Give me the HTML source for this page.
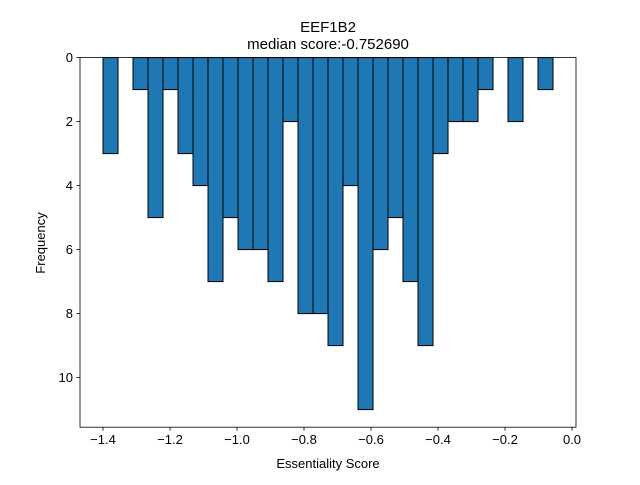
<!DOCTYPE html>
<html><head><meta charset="utf-8"><style>
body{margin:0;background:#fff;}
svg text{font-family:"Liberation Sans",sans-serif;}
</style></head><body>
<svg id="chart" width="640" height="480" xmlns="http://www.w3.org/2000/svg">
<rect width="640" height="480" fill="#fff"/>
<text x="328" y="32" font-size="15" text-anchor="middle">EEF1B2</text>
<text x="328" y="49" font-size="15" text-anchor="middle">median score:-0.752690</text>
<g id="bars"></g>
<g id="axes"></g>
<text x="328" y="468" font-size="13" text-anchor="middle">Essentiality Score</text>
<text x="0" y="0" font-size="13" text-anchor="middle" transform="translate(45,243) rotate(-90)">Frequency</text>
</svg>
<script>
const binStart = -1.4;
const binWidth = 0.044776;
const counts = [3,0,1,5,1,3,4,7,5,6,6,7,2,8,8,9,4,11,6,5,7,9,3,2,2,1,0,2,0,1];
const xTicks = [-1.4,-1.2,-1.0,-0.8,-0.6,-0.4,-0.2,0.0];
const xTickLabels = ["−1.4","−1.2","−1.0","−0.8","−0.6","−0.4","−0.2","0.0"];
const yTicks = [0,2,4,6,8,10];

const L=80,R=576,T=57.6,B=427.2;
const xMin=-1.4687,xMax=0.0119;
const yMax=Math.max(...counts)*1.05;
const xs=v=>L+(v-xMin)/(xMax-xMin)*(R-L);
const ys=v=>T+v/yMax*(B-T);
const NS="http://www.w3.org/2000/svg";
const bars=document.getElementById('bars');
counts.forEach((c,i)=>{
  if(c<=0) return;
  const x0=xs(binStart+i*binWidth), x1=xs(binStart+(i+1)*binWidth);
  const r=document.createElementNS(NS,'rect');
  r.setAttribute('x',x0);r.setAttribute('y',ys(0));
  r.setAttribute('width',x1-x0);r.setAttribute('height',ys(c)-ys(0));
  r.setAttribute('fill','#1f77b4');r.setAttribute('stroke','#000');r.setAttribute('stroke-width','1');
  
  
  bars.appendChild(r);
});
const ax=document.getElementById('axes');
const frame=document.createElementNS(NS,'rect');
frame.setAttribute('x',L);frame.setAttribute('y',T);frame.setAttribute('width',R-L);frame.setAttribute('height',B-T);
frame.setAttribute('fill','none');frame.setAttribute('stroke','#000');frame.setAttribute('stroke-width','0.8');


ax.appendChild(frame);
xTicks.forEach((v,i)=>{
  const x=xs(v);
  const l=document.createElementNS(NS,'line');
  l.setAttribute('x1',x);l.setAttribute('x2',x);l.setAttribute('y1',B);l.setAttribute('y2',B+3.5);
  l.setAttribute('stroke','#000');l.setAttribute('stroke-width','0.8');
  ax.appendChild(l);
  const t=document.createElementNS(NS,'text');
  t.setAttribute('x',x);t.setAttribute('y',B+17);t.setAttribute('font-size','13');t.setAttribute('text-anchor','middle');
  t.textContent=xTickLabels[i];
  
  
  ax.appendChild(t);
});
yTicks.forEach(v=>{
  const y=ys(v);
  const l=document.createElementNS(NS,'line');
  l.setAttribute('x1',L-3.5);l.setAttribute('x2',L);l.setAttribute('y1',y);l.setAttribute('y2',y);
  l.setAttribute('stroke','#000');l.setAttribute('stroke-width','0.8');
  ax.appendChild(l);
  const t=document.createElementNS(NS,'text');
  t.setAttribute('x',L-7);t.setAttribute('y',y+4.5);t.setAttribute('font-size','13');t.setAttribute('text-anchor','end');
  t.textContent=v;
  
  
  ax.appendChild(t);
});
</script>
</body></html>
